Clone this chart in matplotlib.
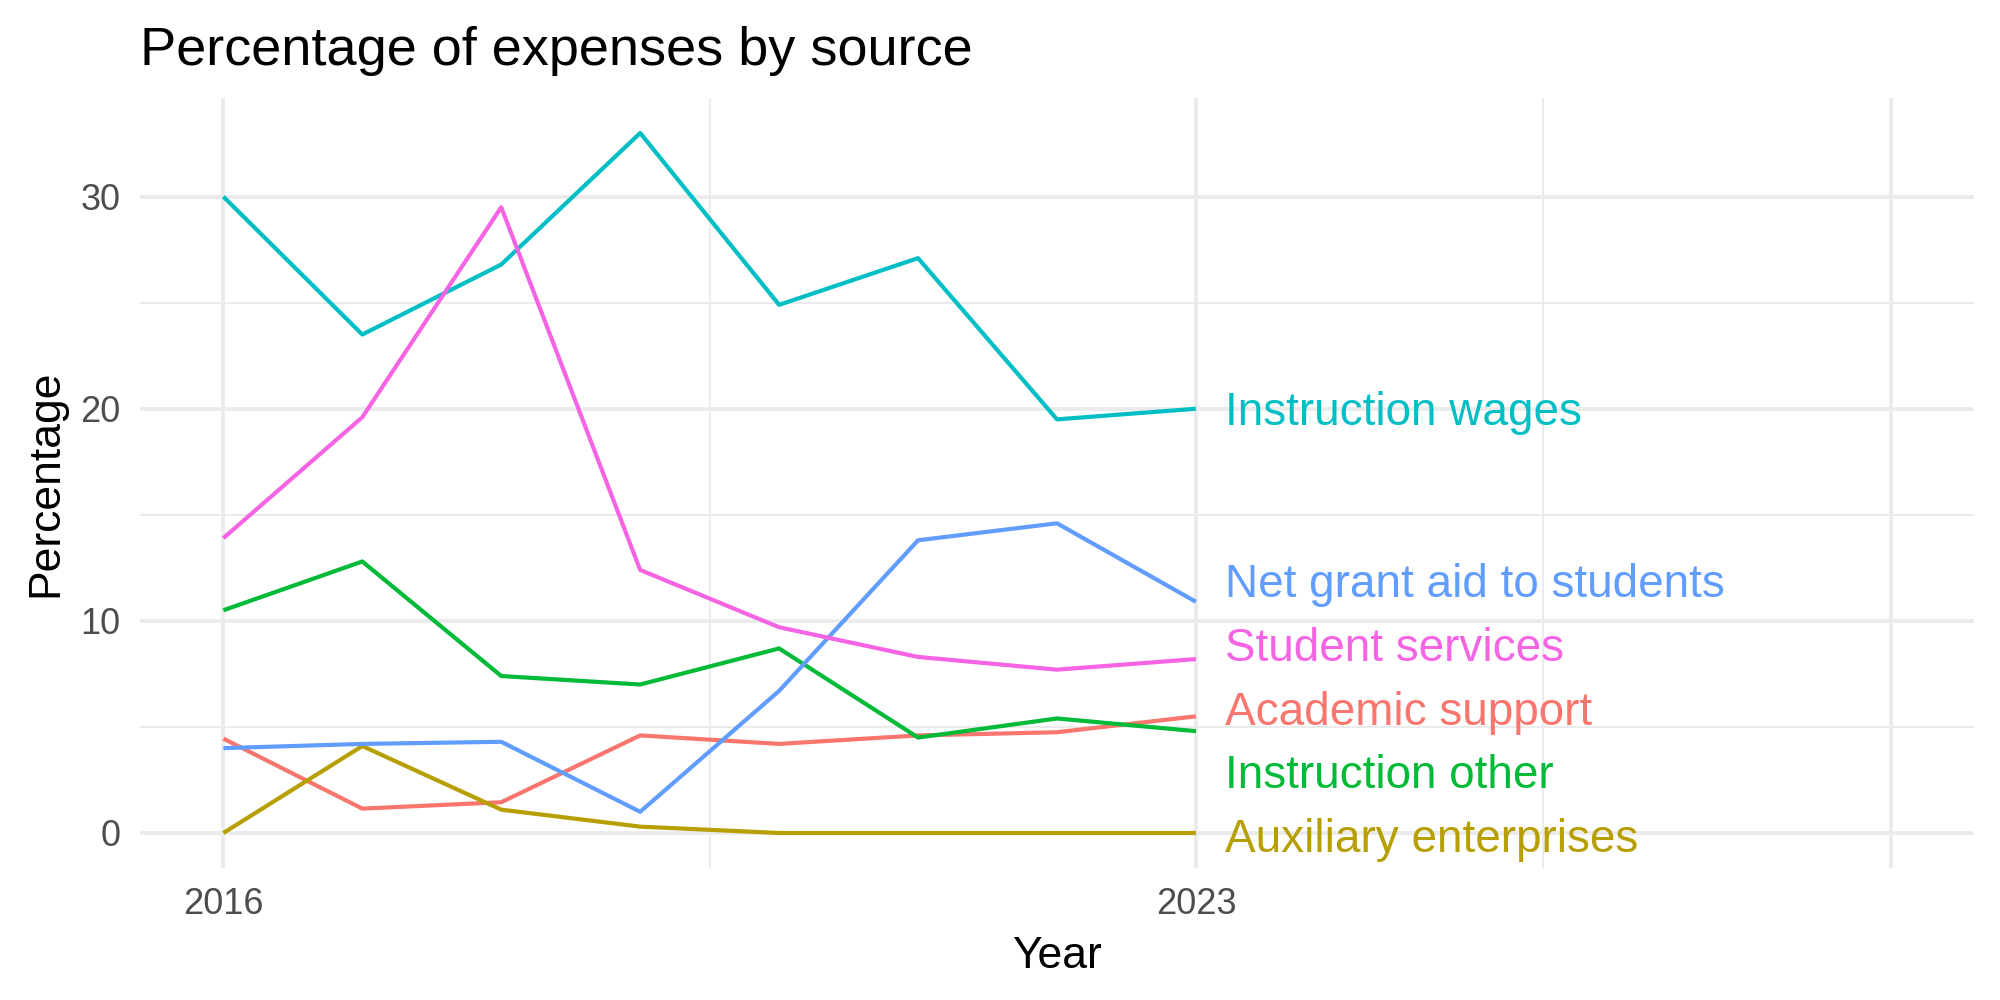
import matplotlib.pyplot as plt

plt.rcParams['font.family'] = ['Liberation Sans', 'DejaVu Sans']

years = [2016, 2017, 2018, 2019, 2020, 2021, 2022, 2023]

academic_support = [4.45, 1.15, 1.45, 4.6, 4.2, 4.6, 4.75, 5.5]
auxiliary_enterprises = [0.0, 4.1, 1.1, 0.3, 0.0, 0.0, 0.0, 0.0]
instruction_other = [10.5, 12.8, 7.4, 7.0, 8.7, 4.5, 5.4, 4.8]
instruction_wages = [30.0, 23.5, 26.8, 33.0, 24.9, 27.1, 19.5, 20.0]
net_grant_aid = [4.0, 4.2, 4.3, 1.0, 6.7, 13.8, 14.6, 10.9]
student_services = [13.9, 19.6, 29.5, 12.4, 9.7, 8.3, 7.7, 8.2]

series_names = ['Academic support', 'Auxiliary enterprises', 'Instruction other',
                'Instruction wages', 'Net grant aid to students', 'Student services']
series_values = [academic_support, auxiliary_enterprises, instruction_other,
                 instruction_wages, net_grant_aid, student_services]
colors = ['#F8766D', '#B79F00', '#00BA38', '#00BFC4', '#619CFF', '#F564E3']

x_breaks = [2016, 2023, 2028]
x_labels = ['2016', '2023', '']
y_breaks = [0, 10, 20, 30]


def repel(vals, gap=3.0, n_iter=200):     ## crude 1d label repel, keeps order
    pos = list(vals)
    order = sorted(range(len(pos)), key=lambda i: pos[i])
    for _ in range(n_iter):
        moved = False
        for a, b in zip(order[:-1], order[1:]):
            d = pos[b] - pos[a]
            if d < gap:
                shift = (gap - d) / 2
                pos[a] -= shift
                pos[b] += shift
                moved = True
        if not moved:
            break
    return pos


fig = plt.figure(figsize=(10, 5), dpi=200)
ax = fig.add_axes([0.070, 0.132, 0.917, 0.770])

for name, vals, col in zip(series_names, series_values, colors):
    ax.plot(years, vals, color=col, lw=1.5, zorder=3, solid_capstyle='butt')

last_vals = [v[-1] for v in series_values]
label_y = repel(last_vals)
for name, y, col in zip(series_names, label_y, colors):
    ax.text(years[-1] + 0.21, y - 0.2, name, color=col, fontsize=16.5,
            ha='left', va='center', zorder=4)

ax.set_xlim(2015.4, 2028.6)
ax.set_ylim(-1.65, 34.65)
ax.set_xticks(x_breaks)
ax.set_xticklabels(x_labels)
ax.set_xticks([2019.5, 2025.5], minor=True)
ax.set_yticks(y_breaks)
ax.set_yticks([5, 15, 25], minor=True)

ax.grid(which='major', color='#EBEBEB', lw=1.4, zorder=0)
ax.grid(which='minor', color='#EBEBEB', lw=0.7, zorder=0)
for s in ax.spines.values():
    s.set_visible(False)
ax.tick_params(which='both', length=0, labelsize=13, labelcolor='#4D4D4D', pad=7)

ax.set_xlabel('Year', fontsize=16, labelpad=5)
ax.set_ylabel('Percentage', fontsize=16, labelpad=5)
ax.set_title('Percentage of expenses by source', fontsize=19.5, loc='left', pad=12)

plt.savefig('out.png', dpi=200)
